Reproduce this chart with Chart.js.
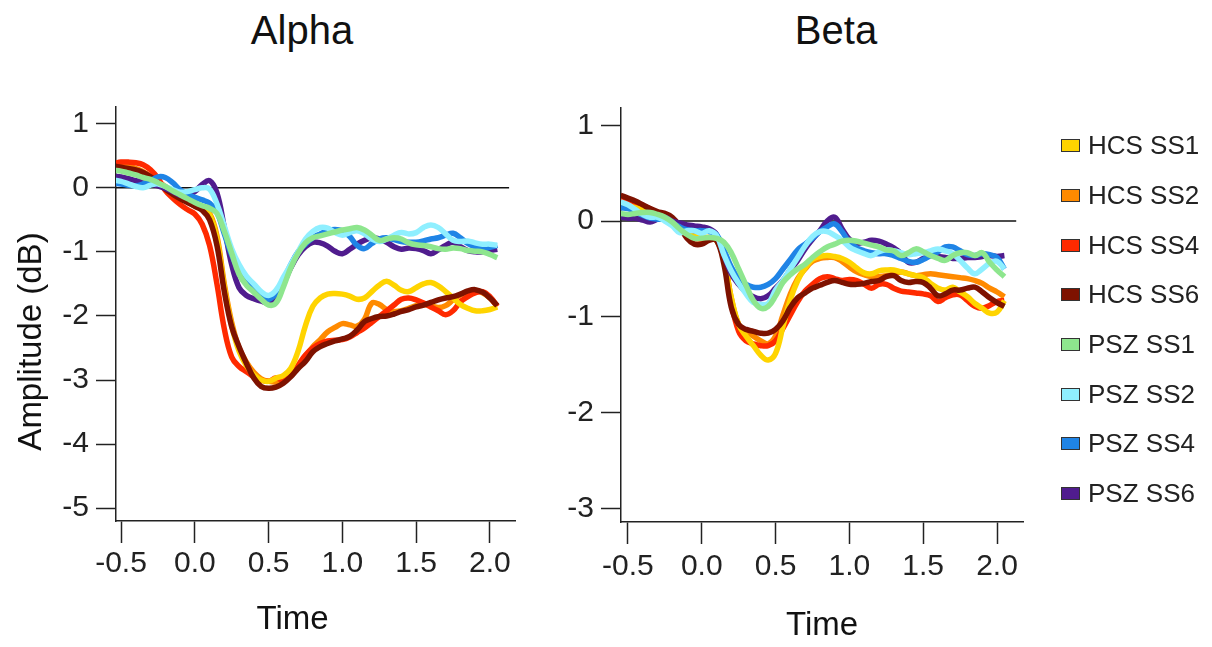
<!DOCTYPE html>
<html>
<head>
<meta charset="utf-8">
<script src="https://cdn.jsdelivr.net/npm/chart.js@4.4.0/dist/chart.umd.min.js"></script>
<style>
  body { margin:0; background:#fff; width:1212px; height:647px; overflow:hidden; position:relative; font-family:'Liberation Sans', Arial, sans-serif; }
  canvas { position:absolute; top:0; }
  #alpha { left:0; }
  #beta { left:560px; }
  .ptitle { position:absolute; top:6px; width:240px; height:48px; line-height:48px; font-size:40px; text-align:center; color:#111; }
  #legend { position:absolute; left:1061px; top:121px; }
  .item { display:flex; align-items:center; height:49.7px; font-size:26px; color:#222; }
  .sw { width:17px; height:11px; border:1.5px solid #333; margin-right:8px; }
</style>
</head>
<body>
<div class="ptitle" id="alphaTitle" style="left:182px"></div>
<div class="ptitle" id="betaTitle" style="left:716px"></div>
<canvas id="alpha" width="604" height="647"></canvas>
<canvas id="beta" width="552" height="647"></canvas>
<div id="legend"></div>
<script>
// time axis (s), one value every 0.05
const time = [-0.55,-0.5,-0.45,-0.4,-0.35,-0.3,-0.25,-0.2,-0.15,-0.1,-0.05,0,0.05,0.1,0.15,0.2,0.25,0.3,0.35,0.4,0.45,0.5,0.55,0.6,0.65,0.7,0.75,0.8,0.85,0.9,0.95,1.0,1.05,1.1,1.15,1.2,1.25,1.3,1.35,1.4,1.45,1.5,1.55,1.6,1.65,1.7,1.75,1.8,1.85,1.9,1.95,2.0,2.05];

const panelTitles = ['Alpha', 'Beta'];
const seriesNames = ['HCS SS1','HCS SS2','HCS SS4','HCS SS6','PSZ SS1','PSZ SS2','PSZ SS4','PSZ SS6'];
const seriesColors = ['#FFD400','#FF8A00','#FF2A00','#7E1200','#8EE68E','#8FEFFF','#1F84E6','#501C8E'];
const drawOrder = [5, 7, 6, 4, 0, 1, 2, 3];

const xTickValues = [-0.5, 0, 0.5, 1, 1.5, 2];
const alphaYTicks = [-5, -4, -3, -2, -1, 0, 1];
const betaYTicks = [-3, -2, -1, 0, 1];
const zeroLineX = [-0.6, 2.13];

// Alpha
const alphaHcs1 = [0.30,0.30,0.28,0.25,0.20,0.14,0.07,0.00,-0.08,-0.16,-0.22,-0.28,-0.33,-0.42,-0.80,-1.55,-2.15,-2.55,-2.78,-2.92,-3.00,-3.02,-2.97,-2.93,-2.82,-2.55,-2.15,-1.85,-1.72,-1.66,-1.65,-1.66,-1.69,-1.74,-1.72,-1.62,-1.52,-1.46,-1.52,-1.60,-1.62,-1.56,-1.50,-1.48,-1.53,-1.62,-1.72,-1.82,-1.88,-1.92,-1.92,-1.90,-1.86];
const alphaHcs2 = [0.35,0.36,0.34,0.30,0.25,0.18,0.10,0.02,-0.07,-0.15,-0.22,-0.28,-0.33,-0.40,-0.75,-1.50,-2.10,-2.50,-2.72,-2.88,-2.98,-3.02,-3.03,-2.99,-2.92,-2.80,-2.64,-2.48,-2.37,-2.25,-2.18,-2.12,-2.14,-2.16,-2.05,-1.80,-1.82,-1.90,-1.93,-1.92,-1.88,-1.84,-1.82,-1.84,-1.87,-1.84,-1.75,-1.67,-1.62,-1.60,-1.64,-1.72,-1.85];
const alphaHcs4 = [0.38,0.40,0.40,0.39,0.36,0.28,0.15,-0.04,-0.16,-0.26,-0.34,-0.41,-0.57,-0.90,-1.50,-2.20,-2.64,-2.79,-2.87,-2.95,-3.00,-3.02,-2.97,-3.00,-2.92,-2.77,-2.61,-2.50,-2.43,-2.39,-2.38,-2.37,-2.33,-2.26,-2.19,-2.10,-2.01,-1.92,-1.83,-1.74,-1.72,-1.75,-1.80,-1.86,-1.92,-1.98,-1.92,-1.78,-1.70,-1.64,-1.62,-1.70,-1.85];
const alphaHcs6 = [0.34,0.32,0.30,0.28,0.24,0.17,0.08,-0.02,-0.10,-0.17,-0.23,-0.29,-0.35,-0.50,-0.90,-1.62,-2.17,-2.48,-2.74,-2.97,-3.10,-3.13,-3.11,-3.05,-2.95,-2.82,-2.71,-2.56,-2.48,-2.43,-2.39,-2.36,-2.32,-2.22,-2.09,-2.04,-2.01,-2.00,-1.97,-1.93,-1.90,-1.86,-1.83,-1.79,-1.75,-1.72,-1.70,-1.66,-1.61,-1.59,-1.63,-1.72,-1.84];
const alphaPsz1 = [0.27,0.26,0.23,0.20,0.16,0.13,0.08,0.02,-0.05,-0.11,-0.17,-0.23,-0.28,-0.32,-0.40,-0.68,-1.02,-1.35,-1.52,-1.63,-1.74,-1.83,-1.80,-1.55,-1.25,-1.02,-0.86,-0.78,-0.75,-0.72,-0.69,-0.66,-0.64,-0.62,-0.66,-0.74,-0.82,-0.80,-0.78,-0.80,-0.86,-0.89,-0.90,-0.92,-0.95,-0.96,-0.94,-0.95,-0.98,-0.99,-1.00,-1.04,-1.09];
const alphaPsz2 = [0.12,0.10,0.06,0.02,0.00,0.04,0.06,0.02,-0.03,-0.07,-0.06,-0.03,0.00,-0.02,-0.25,-0.60,-0.95,-1.20,-1.38,-1.50,-1.62,-1.68,-1.60,-1.40,-1.20,-1.00,-0.80,-0.68,-0.62,-0.63,-0.70,-0.74,-0.70,-0.67,-0.72,-0.80,-0.84,-0.80,-0.74,-0.70,-0.72,-0.70,-0.62,-0.58,-0.62,-0.72,-0.82,-0.84,-0.83,-0.86,-0.88,-0.88,-0.90];
const alphaPsz4 = [0.07,0.06,0.04,0.03,0.06,0.11,0.17,0.16,0.08,-0.03,-0.10,-0.15,-0.19,-0.24,-0.38,-0.72,-1.05,-1.30,-1.48,-1.60,-1.70,-1.74,-1.65,-1.45,-1.20,-1.00,-0.88,-0.78,-0.72,-0.67,-0.65,-0.67,-0.76,-0.90,-0.95,-0.87,-0.80,-0.78,-0.81,-0.84,-0.85,-0.85,-0.83,-0.80,-0.78,-0.74,-0.71,-0.78,-0.87,-0.92,-0.95,-0.93,-0.90];
const alphaPsz6 = [0.18,0.17,0.14,0.11,0.09,0.06,0.03,-0.01,-0.06,-0.12,-0.12,-0.06,0.05,0.11,-0.08,-0.62,-1.20,-1.56,-1.68,-1.73,-1.77,-1.79,-1.70,-1.50,-1.25,-1.05,-0.92,-0.85,-0.86,-0.91,-0.99,-1.03,-0.96,-0.88,-0.82,-0.78,-0.80,-0.85,-0.92,-0.96,-0.94,-0.95,-0.98,-1.03,-0.97,-0.90,-0.85,-0.92,-0.98,-1.00,-1.00,-0.98,-0.96];

// Beta
const betaHcs1 = [0.18,0.16,0.14,0.12,0.10,0.07,0.04,0.00,-0.05,-0.12,-0.16,-0.17,-0.17,-0.20,-0.40,-0.80,-1.08,-1.20,-1.30,-1.40,-1.45,-1.38,-1.10,-0.82,-0.62,-0.49,-0.40,-0.37,-0.36,-0.37,-0.39,-0.43,-0.49,-0.54,-0.55,-0.52,-0.51,-0.51,-0.53,-0.55,-0.57,-0.59,-0.65,-0.70,-0.72,-0.69,-0.74,-0.79,-0.86,-0.91,-0.96,-0.95,-0.83];
const betaHcs2 = [0.20,0.18,0.15,0.13,0.10,0.07,0.04,0.00,-0.05,-0.12,-0.17,-0.18,-0.18,-0.20,-0.40,-0.80,-1.08,-1.15,-1.20,-1.25,-1.28,-1.20,-0.98,-0.76,-0.60,-0.50,-0.42,-0.39,-0.38,-0.38,-0.42,-0.48,-0.53,-0.56,-0.58,-0.58,-0.57,-0.55,-0.53,-0.55,-0.57,-0.56,-0.55,-0.56,-0.57,-0.58,-0.59,-0.60,-0.62,-0.65,-0.70,-0.74,-0.79];
const betaHcs4 = [0.24,0.22,0.19,0.16,0.13,0.08,0.04,0.00,-0.04,-0.13,-0.18,-0.19,-0.18,-0.20,-0.38,-0.85,-1.15,-1.25,-1.28,-1.30,-1.30,-1.25,-1.12,-0.98,-0.84,-0.73,-0.66,-0.60,-0.58,-0.60,-0.62,-0.61,-0.62,-0.66,-0.70,-0.66,-0.66,-0.70,-0.73,-0.74,-0.75,-0.76,-0.78,-0.84,-0.80,-0.77,-0.77,-0.83,-0.89,-0.91,-0.88,-0.84,-0.83];
const betaHcs6 = [0.27,0.24,0.21,0.17,0.13,0.10,0.08,0.04,-0.05,-0.18,-0.24,-0.24,-0.20,-0.20,-0.45,-0.90,-1.08,-1.13,-1.15,-1.17,-1.17,-1.13,-1.04,-0.90,-0.80,-0.75,-0.70,-0.67,-0.64,-0.62,-0.64,-0.66,-0.66,-0.65,-0.63,-0.62,-0.58,-0.57,-0.62,-0.64,-0.63,-0.64,-0.70,-0.78,-0.76,-0.72,-0.72,-0.70,-0.69,-0.74,-0.80,-0.85,-0.89];
const betaPsz1 = [0.08,0.07,0.08,0.09,0.09,0.07,0.04,-0.01,-0.08,-0.14,-0.18,-0.18,-0.17,-0.18,-0.22,-0.33,-0.50,-0.67,-0.83,-0.91,-0.89,-0.78,-0.64,-0.56,-0.50,-0.45,-0.38,-0.32,-0.27,-0.24,-0.21,-0.20,-0.21,-0.23,-0.25,-0.27,-0.30,-0.31,-0.36,-0.33,-0.29,-0.32,-0.36,-0.39,-0.41,-0.36,-0.33,-0.33,-0.36,-0.33,-0.43,-0.51,-0.58];
const betaPsz2 = [0.20,0.17,0.12,0.07,0.04,0.04,0.00,-0.05,-0.12,-0.10,-0.10,-0.13,-0.10,-0.15,-0.35,-0.52,-0.65,-0.76,-0.85,-0.87,-0.86,-0.72,-0.62,-0.50,-0.38,-0.26,-0.16,-0.11,-0.11,-0.15,-0.20,-0.27,-0.31,-0.34,-0.36,-0.32,-0.30,-0.31,-0.33,-0.35,-0.34,-0.33,-0.31,-0.29,-0.31,-0.34,-0.41,-0.49,-0.55,-0.50,-0.44,-0.42,-0.50];
const betaPsz4 = [0.14,0.13,0.10,0.06,0.03,0.02,0.02,-0.02,-0.06,-0.09,-0.10,-0.10,-0.11,-0.14,-0.30,-0.48,-0.60,-0.66,-0.69,-0.69,-0.66,-0.60,-0.50,-0.40,-0.30,-0.24,-0.18,-0.11,-0.06,-0.03,-0.11,-0.22,-0.28,-0.31,-0.33,-0.34,-0.34,-0.36,-0.39,-0.42,-0.43,-0.40,-0.36,-0.32,-0.27,-0.27,-0.31,-0.35,-0.36,-0.34,-0.35,-0.38,-0.50];
const betaPsz6 = [0.04,0.03,0.03,0.01,-0.01,0.02,0.04,0.00,-0.02,-0.04,-0.05,-0.06,-0.08,-0.14,-0.35,-0.55,-0.66,-0.74,-0.79,-0.81,-0.78,-0.70,-0.62,-0.51,-0.41,-0.29,-0.19,-0.10,0.00,0.04,-0.08,-0.19,-0.23,-0.22,-0.20,-0.21,-0.24,-0.28,-0.34,-0.43,-0.43,-0.39,-0.36,-0.37,-0.38,-0.39,-0.39,-0.38,-0.38,-0.37,-0.36,-0.37,-0.36];

const fontFamily = "'Liberation Sans', Arial, Helvetica, sans-serif";
Chart.defaults.font.family = fontFamily;
Chart.defaults.color = '#222';

function buildDatasets(seriesList){
    let sets = seriesList.map((vals, i) => ({
        label: seriesNames[i],
        data: time.map((t, k) => ({x: t, y: vals[k]})),
        borderColor: seriesColors[i],
        borderWidth: 5.5,
        pointRadius: 0,
        tension: 0.4,
        fill: false,
        order: drawOrder[i]
    }));
    sets.push({
        label: 'zero',
        data: zeroLineX.map(x => ({x: x, y: 0})),
        borderColor: '#111',
        borderWidth: 1.5,
        pointRadius: 0,
        order: 20
    });
    return sets;
}

function makeChart(id, cfg){
    return new Chart(document.getElementById(id), {
        type: 'line',
        data: {datasets: buildDatasets(cfg.series)},
        options: {
            responsive: false,
            animation: false,
            devicePixelRatio: 1,
            layout: {padding: {left: 0, right: 89, top: cfg.top, bottom: 0}},
            plugins: {
                legend: {display: false},
                tooltip: {enabled: false},
                title: {display: false}
            },
            scales: {
                x: {
                    type: 'linear',
                    min: cfg.xMin,
                    max: cfg.xMax,
                    afterBuildTicks: s => { s.ticks = xTickValues.map(v => ({value: v})); },
                    afterFit: s => { s.height = cfg.xHeight; },
                    border: {display: true, color: '#222', width: 1.5},
                    grid: {display: true, drawOnChartArea: false, drawTicks: true, tickLength: 22, tickWidth: 1.5, tickColor: '#222'},
                    ticks: {font: {size: 30}, color: '#222', padding: cfg.xTickPad, maxRotation: 0, autoSkip: false,
                        callback: v => Number(v).toFixed(1)},
                    title: {display: true, text: cfg.xTitle, font: {size: 33}, color: '#111',
                        padding: {top: 0, bottom: cfg.xTitlePad}}
                },
                y: {
                    min: cfg.yMin,
                    max: cfg.yMax,
                    afterBuildTicks: s => { s.ticks = cfg.yTicks.map(v => ({value: v})); },
                    afterFit: s => { s.width = cfg.yWidth; },
                    border: {display: true, color: '#222', width: 1.5},
                    grid: {display: true, drawOnChartArea: false, drawTicks: true, tickLength: 20, tickWidth: 1.5, tickColor: '#222'},
                    ticks: {font: {size: 30}, color: '#222', padding: 7, autoSkip: false,
                        callback: v => String(v)},
                    title: {display: cfg.yTitle !== '', text: cfg.yTitle, font: {size: 33}, color: '#111',
                        padding: {top: 12, bottom: 0}}
                }
            }
        }
    });
}

const nb = '\u00a0';

document.getElementById('alphaTitle').textContent = panelTitles[0];
document.getElementById('betaTitle').textContent = panelTitles[1];

makeChart('alpha', {
    top: 107,
    series: [alphaHcs1, alphaHcs2, alphaHcs4, alphaHcs6, alphaPsz1, alphaPsz2, alphaPsz4, alphaPsz6],
    xMin: -0.534, xMax: 2.17,
    yMin: -5.2, yMax: 1.26,
    yTicks: alphaYTicks,
    yWidth: 116,
    xHeight: 126,
    xTickPad: 3,
    xTitle: 'Time' + nb.repeat(5),
    xTitlePad: 7,
    yTitle: 'Amplitude (dB)' + nb.repeat(6)
});

makeChart('beta', {
    top: 108,
    series: [betaHcs1, betaHcs2, betaHcs4, betaHcs6, betaPsz1, betaPsz2, betaPsz4, betaPsz6],
    xMin: -0.547, xMax: 2.176,
    yMin: -3.14, yMax: 1.18,
    yTicks: betaYTicks,
    yWidth: 61,
    xHeight: 125,
    xTickPad: 5,
    xTitle: 'Time',
    xTitlePad: 1,
    yTitle: ''
});

// legend
let legendBox = document.getElementById('legend');
seriesNames.forEach((name, i) => {
    let row = document.createElement('div');
    row.className = 'item';
    row.innerHTML = '<span class="sw" style="background:' + seriesColors[i] + '"></span><span>' + name + '</span>';
    legendBox.appendChild(row);
});
</script>
</body>
</html>
